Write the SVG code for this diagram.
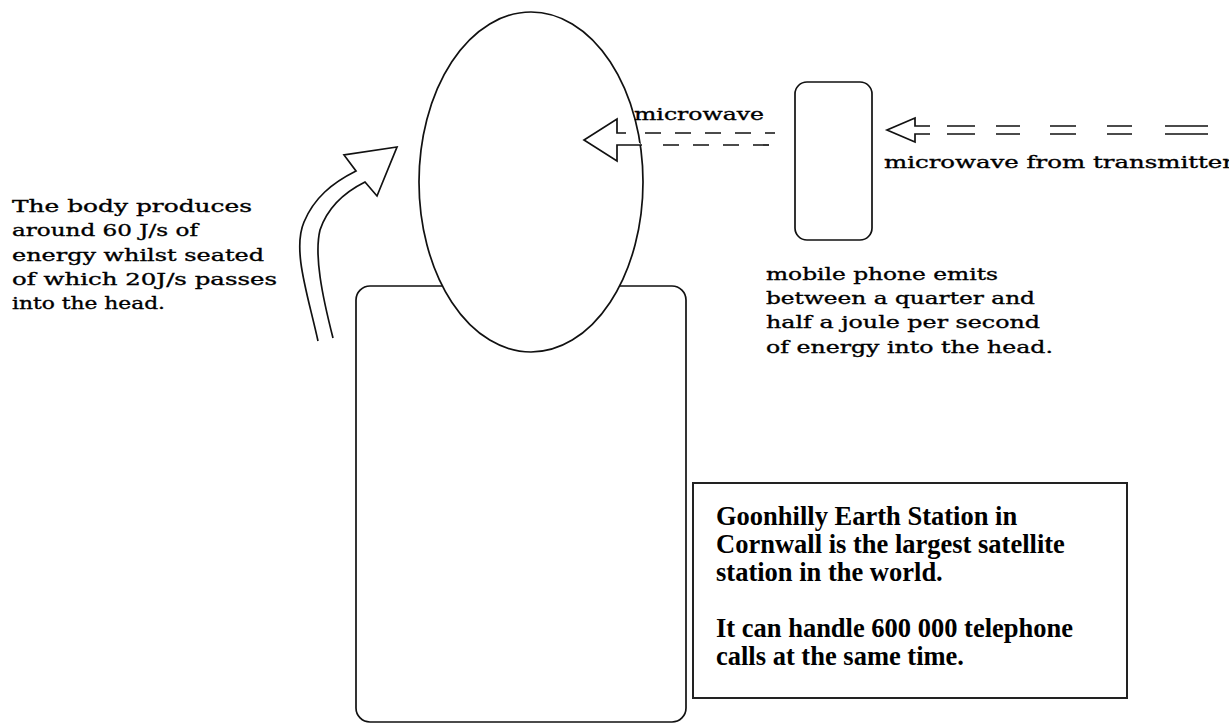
<svg xmlns="http://www.w3.org/2000/svg" width="1229" height="724" viewBox="0 0 1229 724">
<style>
.ln{fill:none;stroke:#111;stroke-width:1.7}
.sh{fill:#fff;stroke:#111;stroke-width:1.7}
.t{font-family:"DejaVu Serif","Liberation Serif",serif;font-size:17px;fill:#000;stroke:#000;stroke-width:0.35}
.b{font-family:"Liberation Serif","Times New Roman",serif;font-size:26.5px;font-weight:bold;fill:#000}
</style>
<rect width="1229" height="724" fill="#fff"/>
<g id="body"><rect class="sh" x="356" y="286" width="330" height="436" rx="14"/></g>
<g id="head"><ellipse class="sh" cx="531" cy="182" rx="112" ry="170"/></g>
<g id="phone"><rect class="sh" x="795" y="82" width="77" height="158" rx="12"/></g>
<g id="connectors">
<path class="sh" d="M626,133 L617,133 L617,119 L584,140 L617,161 L617,145 L642,145"/>
<path class="ln" d="M645,133 H775" stroke-dasharray="16 14"/>
<path class="ln" d="M663,145 H775" stroke-dasharray="16 14"/>
<path class="sh" d="M930,126 L915,126 L915,118 L887,130 L915,142 L915,134 L930,134"/>
<path class="ln" d="M947,126 H975 M996,126 H1020 M1050,126 H1076 M1107,126 H1132 M1165,126 H1208"/>
<path class="ln" d="M947,134 H975 M996,134 H1020 M1050,134 H1076 M1107,134 H1132 M1165,134 H1208"/>
<path class="ln" d="M318,341 C308,295 292,250 304,222 C314,198 332,183 356,171 L344,155 L397,147 L377,196 L365,182 C345,192 328,206 320,230 C314,255 322,295 333,338"/>
</g>
<g id="labels">
<text class="t" x="634" y="120" textLength="130" lengthAdjust="spacingAndGlyphs">microwave</text>
<text class="t" x="884" y="168" textLength="350" lengthAdjust="spacingAndGlyphs">microwave from transmitter</text>
<text class="t" x="12" y="212" textLength="240" lengthAdjust="spacingAndGlyphs">The body produces</text>
<text class="t" x="12" y="236" textLength="186" lengthAdjust="spacingAndGlyphs">around 60 J/s of</text>
<text class="t" x="12" y="261" textLength="252" lengthAdjust="spacingAndGlyphs">energy whilst seated</text>
<text class="t" x="12" y="285" textLength="265" lengthAdjust="spacingAndGlyphs">of which 20J/s passes</text>
<text class="t" x="12" y="309" textLength="153" lengthAdjust="spacingAndGlyphs">into the head.</text>
<text class="t" x="766" y="280" textLength="232" lengthAdjust="spacingAndGlyphs">mobile phone emits</text>
<text class="t" x="766" y="304" textLength="269" lengthAdjust="spacingAndGlyphs">between a quarter and</text>
<text class="t" x="766" y="328" textLength="274" lengthAdjust="spacingAndGlyphs">half a joule per second</text>
<text class="t" x="766" y="353" textLength="287" lengthAdjust="spacingAndGlyphs">of energy into the head.</text>
</g>
<g id="infobox">
<rect x="693" y="483" width="434" height="215" fill="#fff" stroke="#222" stroke-width="2"/>
<text class="b" x="716" y="525">Goonhilly Earth Station in</text>
<text class="b" x="716" y="553">Cornwall is the largest satellite</text>
<text class="b" x="716" y="581">station in the world.</text>
<text class="b" x="716" y="637">It can handle 600 000 telephone</text>
<text class="b" x="716" y="665">calls at the same time.</text>
</g>
</svg>
